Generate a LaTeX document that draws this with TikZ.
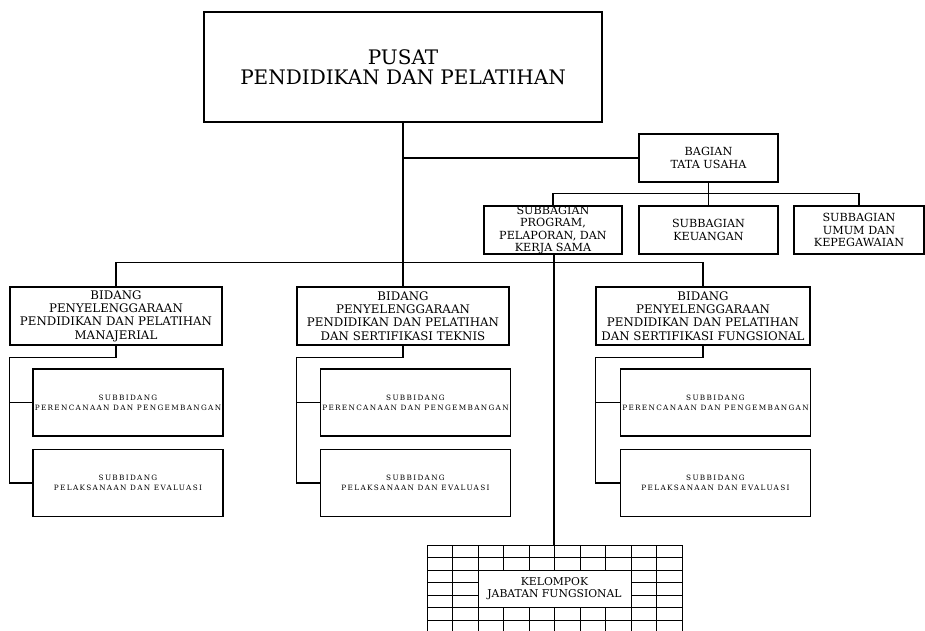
\documentclass[tikz,border=0pt]{standalone}
\usepackage{fontspec}
\setmainfont{DejaVu Serif}
\newfontfamily\renggang[LetterSpace=18]{DejaVu Serif}

\begin{document}
\begin{tikzpicture}[x=1pt,y=-1pt,
    kotak/.style={draw,line width=1.1pt,align=center,inner sep=0pt},
    kepala/.style={kotak,line width=1.4pt,minimum width=398pt,minimum height=110pt,
        font=\fontsize{20}{20}\selectfont},
    bagian/.style={kotak,minimum height=48pt,font=\fontsize{11.2}{12.3}\selectfont},
    bidang/.style={kotak,minimum width=212pt,minimum height=58pt,
        font=\fontsize{11.8}{13.3}\selectfont},
    subbidang/.style={kotak,minimum width=190pt,minimum height=67pt,
        font=\renggang\fontsize{7.3}{10}\selectfont},
    garis/.style={line width=1.1pt},
    kisi/.style={line width=0.9pt}]
        \clip (0,0) rectangle (925,630);

        \node[kepala] at (403,67)(pusat){PUSAT\\PENDIDIKAN DAN PELATIHAN};
        \node[bagian,minimum width=139pt] at (708.5,158)(tu){BAGIAN\\TATA USAHA};
        \node[bagian,minimum width=138pt] at (553,230)(sb1){SUBBAGIAN\\PROGRAM,\\PELAPORAN, DAN\\KERJA SAMA};
        \node[bagian,minimum width=139pt] at (708.5,230)(sb2){SUBBAGIAN\\KEUANGAN};
        \node[bagian,minimum width=130pt] at (859,230)(sb3){SUBBAGIAN\\UMUM DAN\\KEPEGAWAIAN};

        \node[bidang] at (116,316)(bd1){BIDANG\\PENYELENGGARAAN\\PENDIDIKAN DAN PELATIHAN\\MANAJERIAL};
        \node[bidang] at (403,316)(bd2){BIDANG\\PENYELENGGARAAN\\PENDIDIKAN DAN PELATIHAN\\DAN SERTIFIKASI TEKNIS};
        \node[bidang,minimum width=214pt] at (703,316)(bd3){BIDANG\\PENYELENGGARAAN\\PENDIDIKAN DAN PELATIHAN\\DAN SERTIFIKASI FUNGSIONAL};

        \node[subbidang] at (128,402.5)(sd11){SUBBIDANG\\PERENCANAAN DAN PENGEMBANGAN};
        \node[subbidang] at (128,483)(sd12){SUBBIDANG\\PELAKSANAAN DAN EVALUASI};
        \node[subbidang] at (415.5,402.5)(sd21){SUBBIDANG\\PERENCANAAN DAN PENGEMBANGAN};
        \node[subbidang] at (415.5,483)(sd22){SUBBIDANG\\PELAKSANAAN DAN EVALUASI};
        \node[subbidang] at (715.5,402.5)(sd31){SUBBIDANG\\PERENCANAAN DAN PENGEMBANGAN};
        \node[subbidang] at (715.5,483)(sd32){SUBBIDANG\\PELAKSANAAN DAN EVALUASI};

        % kelompok jabatan fungsional: kisi-kisi di bawah
        \foreach \i in {0,...,10}
            \draw[kisi] (427+25.5*\i,545) -- (427+25.5*\i,640);
        \foreach \j in {0,...,6}
            \draw[kisi] (427,545+12.5*\j) -- (682,545+12.5*\j);
        \node[kotak,line width=0.9pt,fill=white,minimum width=153pt,minimum height=37.5pt,
            font=\fontsize{10.8}{12.5}\selectfont] at (554.5,588.75)(jf){KELOMPOK\\JABATAN FUNGSIONAL};
        \coordinate (jfatas) at (554,545);

        % garis-garis hubungan
        \draw[garis] (pusat.south) -- (bd2.north);
        \draw[garis] (pusat.south |- tu.west) -- (tu.west);
        \draw[garis] (bd1.north) -- ++(0,-24) -| (bd3.north);
        \draw[garis] (tu.south) -- (sb2.north);
        \draw[garis] (sb1.north) -- ++(0,-12) -| (sb3.north);
        \draw[garis] (sb1.south -| jfatas) -- (jfatas);

        \draw[garis] (bd1.south) -- ++(0,12) -| (bd1.west |- sd12.west) -- (sd12.west);
        \draw[garis] (bd1.west |- sd11.west) -- (sd11.west);
        \draw[garis] (bd2.south) -- ++(0,12) -| (bd2.west |- sd22.west) -- (sd22.west);
        \draw[garis] (bd2.west |- sd21.west) -- (sd21.west);
        \draw[garis] (bd3.south) -- ++(0,12) -| (bd3.west |- sd32.west) -- (sd32.west);
        \draw[garis] (bd3.west |- sd31.west) -- (sd31.west);
    \end{tikzpicture}
\end{document}
